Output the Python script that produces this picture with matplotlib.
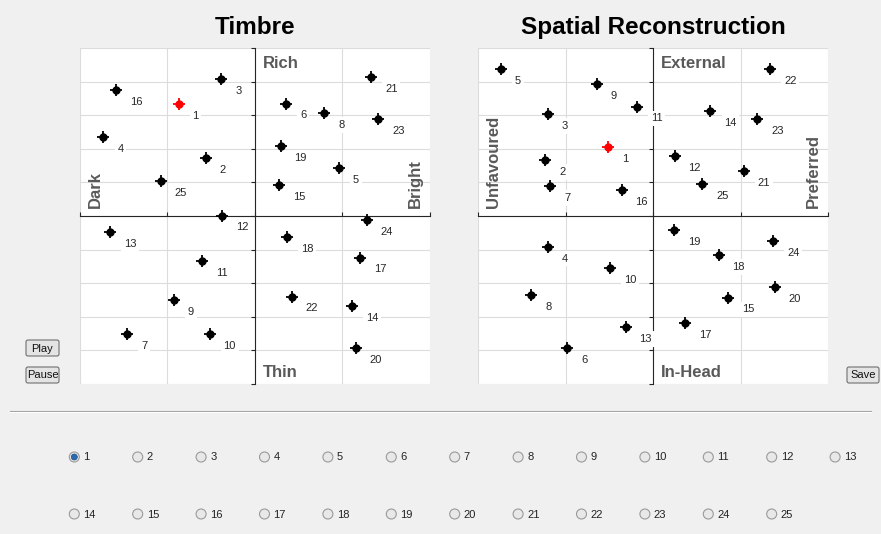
import numpy as np
import matplotlib
matplotlib.use('Agg')
import matplotlib.pyplot as plt
from matplotlib.patches import Circle, FancyBboxPatch

plt.rcParams['font.family'] = ['Liberation Sans', 'DejaVu Sans']

# stimulus numbers and their positions on the two maps
ids = list(range(1, 26))
timbre_x = [-0.436, -0.281, -0.191, -0.866, 0.483, 0.181, -0.729, 0.399, -0.463, -0.258,
            -0.302, -0.186, -0.828, 0.557, 0.141, -0.795, 0.604, 0.186, 0.148, 0.579,
            0.667, 0.211, 0.707, 0.640, -0.539]
timbre_y = [0.665, 0.345, 0.814, 0.472, 0.284, 0.669, -0.702, 0.611, -0.500, -0.702,
            -0.268, 0.002, -0.097, -0.534, 0.183, 0.750, -0.248, -0.127, 0.415, -0.788,
            0.826, -0.480, 0.575, -0.026, 0.208]
spatial_x = [-0.257, -0.615, -0.602, -0.602, -0.869, -0.490, -0.587, -0.695, -0.320, -0.246,
             -0.093, 0.124, -0.156, 0.328, 0.430, -0.179, 0.185, 0.375, 0.120, 0.697,
             0.518, 0.670, 0.596, 0.686, 0.282]
spatial_y = [0.411, 0.333, 0.607, -0.183, 0.875, -0.786, 0.177, -0.470, 0.784, -0.311,
             0.651, 0.355, -0.663, 0.625, -0.486, 0.153, -0.639, -0.234, -0.083, -0.425,
             0.266, 0.873, 0.575, -0.151, 0.190]
selected = 1

panels = [
    ('Timbre', timbre_x, timbre_y, ('Rich', 'Thin', 'Dark', 'Bright')),
    ('Spatial Reconstruction', spatial_x, spatial_y, ('External', 'In-Head', 'Unfavoured', 'Preferred')),
]

W, H = 881, 534
fig = plt.figure(figsize=(W / 100, H / 100), dpi=100, facecolor='#f0f0f0')

# pixel-space layer for the GUI bits
ui = fig.add_axes([0, 0, 1, 1])
ui.set_xlim(0, W)
ui.set_ylim(H, 0)
ui.set_axis_off()

ui.plot([10, 871], [411, 411], color='#a0a0a0', lw=0.8)
ui.plot([10, 871], [412, 412], color='white', lw=0.8)

def button(x, y, w, h, label):
    ui.add_patch(FancyBboxPatch((x, y), w, h, boxstyle='round,pad=0,rounding_size=2',
                                fc='#e4e4e4', ec='#707070', lw=0.8))
    ui.text(x + w / 2, y + h / 2 + 0.5, label, ha='center', va='center', fontsize=8, color='#111111')

button(26, 340, 33, 16, 'Play')
button(26, 367, 33, 16, 'Pause')
button(847, 367, 32, 16, 'Save')

for i, n in enumerate(ids):
    row, col = divmod(i, 13)
    cx = 74.3 + 63.4 * col
    cy = 457 + 57 * row
    ui.add_patch(Circle((cx, cy), 5, fc='#e8e8e8', ec='#9a9a9a', lw=0.8))
    if n == selected:
        ui.add_patch(Circle((cx, cy), 3, fc='#2a6cb0', ec='#1b4f86', lw=0.5))
    ui.text(cx + 9, cy + 0.5, str(n), ha='left', va='center', fontsize=8, color='#222222')

ax_pos = [[80 / W, 1 - 384 / H, 349.5 / W, 336 / H],
          [478 / W, 1 - 384 / H, 350 / W, 336 / H]]

for pos, (title, xs, ys, words) in zip(ax_pos, panels):
    ax = fig.add_axes(pos)
    ax.set_facecolor('white')
    ax.set_xlim(-1, 1)
    ax.set_ylim(-1, 1)
    ax.set_xticks([-1, -0.5, 0, 0.5, 1])
    ax.set_yticks(np.round(np.arange(-1, 1.01, 0.2), 1))
    ax.set_xticklabels([])
    ax.set_yticklabels([])
    ax.grid(True, color='#dcdcdc', lw=0.8)
    ax.set_axisbelow(True)
    for s in ('top', 'right'):
        ax.spines[s].set_visible(False)
    ax.spines['left'].set_position(('data', 0))
    ax.spines['bottom'].set_position(('data', 0))
    ax.spines['left'].set_color('#262626')
    ax.spines['bottom'].set_color('#262626')
    ax.tick_params(axis='x', direction='in', length=3, color='#262626')
    ax.tick_params(axis='y', direction='out', length=3, color='#262626')
    ax.set_title(title, fontsize=17.5, fontweight='bold', pad=10)

    for n, x, y in zip(ids, xs, ys):
        c = 'red' if n == selected else 'black'
        ax.plot(x, y, marker='+', ms=9, mew=1.3, color=c, zorder=4)
        ax.plot(x, y, marker='o', ms=5, color=c, mec=c, zorder=4)
        ax.annotate(str(n), (x, y), xytext=(10, -8.5), textcoords='offset points',
                    ha='left', va='center', fontsize=8, color='#262626', zorder=3,
                    bbox=dict(fc='white', ec='none', pad=2))

    top, bottom, left, right = words
    kw = dict(fontsize=12, fontweight='bold', color='#595959')
    ax.annotate(top, (0, 1), xytext=(6, -6), textcoords='offset points', ha='left', va='top', **kw)
    ax.annotate(bottom, (0, -1), xytext=(6, 5), textcoords='offset points', ha='left', va='baseline', **kw)
    ax.annotate(left, (-1, 0), xytext=(6, 6), textcoords='offset points', ha='left', va='bottom',
                rotation=90, **kw)
    ax.annotate(right, (1, 0), xytext=(-5, 6), textcoords='offset points', ha='right', va='bottom',
                rotation=90, **kw)

fig.savefig('out.png', dpi=100, facecolor=fig.get_facecolor())
